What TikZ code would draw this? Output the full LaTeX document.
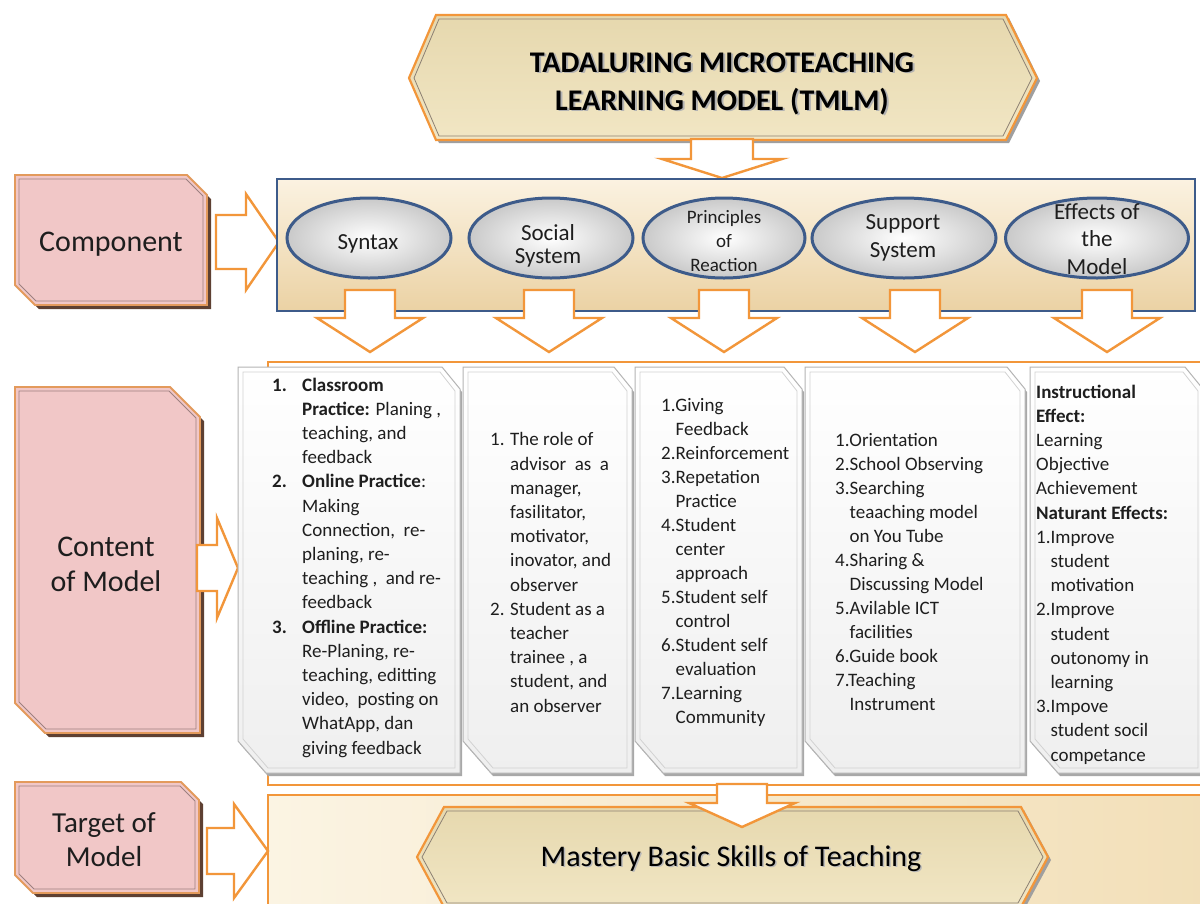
\documentclass[tikz,border=0pt]{standalone}
\usepackage{fontspec}
\setmainfont{Carlito}
\usetikzlibrary{shapes.geometric}
\definecolor{orng}{HTML}{F2963A}
\definecolor{eblue}{HTML}{3D5B8A}
\definecolor{pinkf}{HTML}{F1C7C7}
\definecolor{pinksh}{HTML}{5E4032}
\definecolor{pinkln}{HTML}{E39A5C}
\definecolor{pinkin}{HTML}{9C8080}
\definecolor{creamA}{HTML}{E6D8AE}
\definecolor{creamB}{HTML}{FCF8E8}
\definecolor{creamC}{HTML}{F1E6C4}
\definecolor{frameT}{HTML}{FBF2E1}
\definecolor{frameB}{HTML}{EBD2A4}
\definecolor{colB}{HTML}{EFEFEF}
\definecolor{colln}{HTML}{B5B5B5}
\definecolor{colin}{HTML}{D2D2D2}
\definecolor{colsh}{HTML}{A8A8A8}
\definecolor{txt}{HTML}{1E1E1E}
\definecolor{marble}{HTML}{C9C9C9}
\definecolor{botL}{HTML}{FBF4E3}
\definecolor{botR}{HTML}{F2DFB8}

% down block arrow: cx ytop ybase ytip shaft-half head-half
\newcommand\DnArrow[6]{%
  \draw[blockarrow] (#1-#5,#2) -- (#1+#5,#2) -- (#1+#5,#3) -- (#1+#6,#3) -- (#1,#4) -- (#1-#6,#3) -- (#1-#5,#3) -- cycle;}
% right block arrow: yc xstart xbase xtip shaft-half head-half
\newcommand\RtArrow[6]{%
  \draw[blockarrow] (#2,#1-#5) -- (#3,#1-#5) -- (#3,#1-#6) -- (#4,#1) -- (#3,#1+#6) -- (#3,#1+#5) -- (#2,#1+#5) -- cycle;}
% pink snipped box: x1 y1 x2 y2 snip
\newcommand\PinkBox[5]{%
  \fill[pinksh] (#1+4,#2+4) -- (#3-#5+4,#2+4) -- (#3+4,#2+#5+4) -- (#3+4,#4+4) -- (#1+#5+4,#4+4) -- (#1+4,#4-#5+4) -- cycle;
  \draw[pinkln, line width=1.8pt, fill=pinkf] (#1,#2) -- (#3-#5,#2) -- (#3,#2+#5) -- (#3,#4) -- (#1+#5,#4) -- (#1,#4-#5) -- cycle;
  \draw[pinkin, line width=0.9pt] (#1+4,#2+4) -- (#3-#5-1,#2+4) -- (#3-4,#2+#5+1) -- (#3-4,#4-4) -- (#1+#5+1,#4-4) -- (#1+4,#4-#5-1) -- cycle;}
% content column: x1 x2
\newcommand\ColBox[2]{%
  \fill[colsh] (#1+2,370) -- (#2-18+2,370) -- (#2+2,392) -- (#2+2,776) -- (#1+28+2,776) -- (#1+2,744) -- cycle;
  \draw[colln, line width=1pt, top color=white, bottom color=colB] (#1,367) -- (#2-18,367) -- (#2,389) -- (#2,773) -- (#1+28,773) -- (#1,741) -- cycle;
  \draw[colin, line width=0.8pt] (#1+5,372) -- (#2-20,372) -- (#2-5,391) -- (#2-5,768) -- (#1+30,768) -- (#1+5,739) -- cycle;}
% hexagon banner: xtipL xcornL xcornR xtipR ytop ymid ybot
\newcommand\Banner[7]{%
  \fill[gray!75] (#1+3,#6+3) -- (#2+3,#5+3) -- (#3+3,#5+3) -- (#4+3,#6+3) -- (#3+3,#7+3) -- (#2+3,#7+3) -- cycle;
  \draw[orng, line width=2.2pt, top color=creamA, middle color=creamB, bottom color=creamC] (#1,#6) -- (#2,#5) -- (#3,#5) -- (#4,#6) -- (#3,#7) -- (#2,#7) -- cycle;
  \draw[gray!80!brown, line width=0.8pt] (#1+5,#6) -- (#2+3,#5+4) -- (#3-3,#5+4) -- (#4-5,#6) -- (#3-3,#7-4) -- (#2+3,#7-4) -- cycle;}

\begin{document}
\begin{tikzpicture}[x=1pt,y=-1pt,
  blockarrow/.style={draw=orng, line width=2.4pt, fill=white, line join=miter},
  coltext/.style={anchor=base west, inner sep=0pt, align=left, text=txt, font=\fontsize{19}{24.2}\selectfont},
  etext/.style={anchor=base, inner sep=0pt, align=center, text=txt, font=\fontsize{23}{27}\selectfont},
  ptext/.style={anchor=base, inner sep=0pt, align=center, text=txt, font=\fontsize{30}{35}\selectfont},
  ell/.style={ellipse, draw=eblue, line width=3pt, inner color=white, outer color=marble, inner sep=0pt, minimum height=80pt}
]
\useasboundingbox (0,0) rectangle (1200,903);
\clip (0,0) rectangle (1200,903);
\fill[white] (0,0) rectangle (1200,903);

% (multi-line nodes are placed by the baseline of their last line)

% ---------- title banner ----------
\Banner{409}{436}{1006}{1037}{15}{78}{140}
\node[anchor=base, inner sep=0pt, align=center, text=gray!60, font=\fontsize{30}{38}\selectfont\bfseries] (titlesh) at (724,111.5) {TADALURING MICROTEACHING\\LEARNING MODEL (TMLM)};
\node[anchor=base, inner sep=0pt, align=center, text=black, font=\fontsize{30}{38}\selectfont\bfseries] (title) at (722,110) {TADALURING MICROTEACHING\\LEARNING MODEL (TMLM)};
\DnArrow{722}{139}{159}{178}{31}{60}

% ---------- component row ----------
\PinkBox{15}{175}{207}{305}{20}
\node[ptext] (comp) at (111,251) {Component};
\RtArrow{242}{216}{246}{279}{27}{48}

\draw[eblue, line width=2.6pt, top color=frameT, middle color=frameT!60!frameB, bottom color=frameB] (277,179) rectangle (1195,311);

\node[ell, minimum width=164pt] (e1) at (369,238) {};
\node[ell, minimum width=164pt] (e2) at (551,238) {};
\node[ell, minimum width=162pt] (e3) at (724,238) {};
\node[ell, minimum width=184pt] (e4) at (904,238) {};
\node[ell, minimum width=183pt] (e5) at (1097,238) {};

\node[etext] (t1) at (368,249) {Syntax};
\node[etext, font=\fontsize{23}{23}\selectfont] (t2) at (548,263) {Social\\System};
\node[etext, font=\fontsize{19}{24}\selectfont] (t3) at (724,271) {Principles\\of\\Reaction};
\node[etext, font=\fontsize{23}{28}\selectfont] (t4) at (903,257) {Support\\System};
\node[etext, font=\fontsize{23}{27.5}\selectfont] (t5) at (1097,274) {Effects of\\the\\Model};

% ---------- content frame ----------
\draw[orng, line width=2.5pt, fill=white] (268,362) rectangle (1215,785);

\DnArrow{370}{290}{318}{352}{25}{53}
\DnArrow{549}{290}{318}{352}{25}{53}
\DnArrow{724}{290}{318}{352}{25}{53}
\DnArrow{915}{290}{318}{352}{25}{53}
\DnArrow{1107}{290}{318}{352}{25}{53}

\PinkBox{15}{387}{200}{733}{30}
\node[ptext] (cont) at (106,591) {Content\\of Model};
\RtArrow{568}{197}{217}{238}{23}{50}

\ColBox{238}{460}
\ColBox{463}{632}
\ColBox{635}{802}
\ColBox{805}{1025}
\ColBox{1030}{1203}

\node[coltext] (c1) at (272,754) {%
\makebox[30pt][l]{\textbf{1.}}\textbf{Classroom}\\
\hspace*{30pt}\textbf{Practice:} Planing ,\\
\hspace*{30pt}teaching, and\\
\hspace*{30pt}feedback\\
\makebox[30pt][l]{\textbf{2.}}\textbf{Online Practice}:\\
\hspace*{30pt}Making\\
\hspace*{30pt}Connection,\ \ re-\\
\hspace*{30pt}planing, re-\\
\hspace*{30pt}teaching ,\ \ and re-\\
\hspace*{30pt}feedback\\
\makebox[30pt][l]{\textbf{3.}}\textbf{Offline Practice:}\\
\hspace*{30pt}Re-Planing, re-\\
\hspace*{30pt}teaching, editting\\
\hspace*{30pt}video,\ \ posting on\\
\hspace*{30pt}WhatApp, dan\\
\hspace*{30pt}giving feedback};

\node[coltext] (c2) at (490,712) {%
\makebox[20pt][l]{1.}The role of\\
\hspace*{20pt}advisor\ \ as\ \ a\\
\hspace*{20pt}manager,\\
\hspace*{20pt}fasilitator,\\
\hspace*{20pt}motivator,\\
\hspace*{20pt}inovator, and\\
\hspace*{20pt}observer\\
\makebox[20pt][l]{2.}Student as a\\
\hspace*{20pt}teacher\\
\hspace*{20pt}trainee , a\\
\hspace*{20pt}student, and\\
\hspace*{20pt}an observer};

\node[coltext, font=\fontsize{19}{24}\selectfont] (c3) at (661,723) {%
1.Giving\\
\hphantom{1.}Feedback\\
2.Reinforcement\\
3.Repetation\\
\hphantom{1.}Practice\\
4.Student\\
\hphantom{1.}center\\
\hphantom{1.}approach\\
5.Student self\\
\hphantom{1.}control\\
6.Student self\\
\hphantom{1.}evaluation\\
7.Learning\\
\hphantom{1.}Community};

\node[coltext, font=\fontsize{19}{24}\selectfont] (c4) at (835,710) {%
1.Orientation\\
2.School Observing\\
3.Searching\\
\hphantom{1.}teaaching model\\
\hphantom{1.}on You Tube\\
4.Sharing \&\\
\hphantom{1.}Discussing Model\\
5.Avilable ICT\\
\hphantom{1.}facilities\\
6.Guide book\\
7.Teaching\\
\hphantom{1.}Instrument};

\node[coltext] (c5) at (1036,761) {%
\textbf{Instructional}\\
\textbf{Effect:}\\
Learning\\
Objective\\
Achievement\\
\textbf{Naturant Effects:}\\
1.Improve\\
\hphantom{1.}student\\
\hphantom{1.}motivation\\
2.Improve\\
\hphantom{1.}student\\
\hphantom{1.}outonomy in\\
\hphantom{1.}learning\\
3.Impove\\
\hphantom{1.}student socil\\
\hphantom{1.}competance};

% ---------- target row ----------
\draw[orng, line width=2.5pt, left color=botL, right color=botR] (268,795) rectangle (1215,915);
\PinkBox{15}{782}{199}{893}{18}
\node[ptext, font=\fontsize{29}{34}\selectfont] (targ) at (104,866) {Target of\\Model};
\RtArrow{851}{207}{234}{268}{23}{47}

\Banner{417}{444}{1021}{1048}{807}{857}{907}
\node[anchor=base, inner sep=0pt, text=gray!55, font=\fontsize{30}{35}\selectfont] (mastsh) at (732.5,867.5) {Mastery Basic Skills of Teaching};
\node[anchor=base, inner sep=0pt, text=black, font=\fontsize{30}{35}\selectfont] (mast) at (731,866) {Mastery Basic Skills of Teaching};
\DnArrow{742}{784}{803}{827}{25}{53}
\end{tikzpicture}
\end{document}
